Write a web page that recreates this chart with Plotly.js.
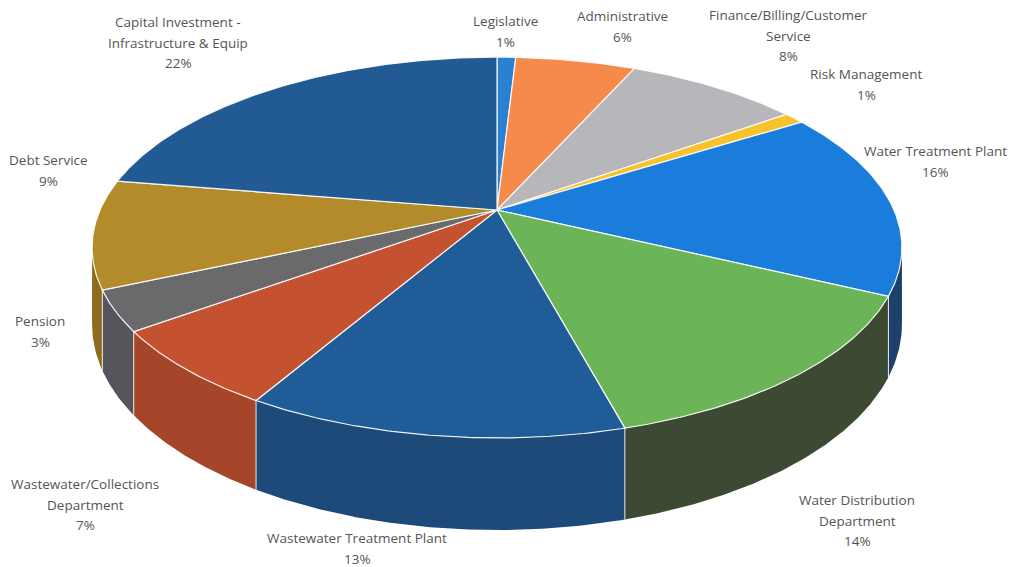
<!DOCTYPE html>
<html>
<head>
<meta charset="utf-8">
<script src="https://cdn.plot.ly/plotly-3.0.1.min.js"></script>
<style>html,body{margin:0;padding:0;background:#fff;}#chart{width:1011px;height:567px;}</style>
</head>
<body>
<div id="chart"></div>
<script>
// ---- data ----
const categories = [
  "Legislative",
  "Administrative",
  "Finance/Billing/Customer Service",
  "Risk Management",
  "Water Treatment Plant",
  "Water Distribution Department",
  "Wastewater Treatment Plant",
  "Wastewater/Collections Department",
  "Pension",
  "Debt Service",
  "Capital Investment - Infrastructure & Equip"
];
const values = [0.9, 5.8, 8.4, 1.0, 16.0, 13.7, 12.6, 6.6, 3.4, 9.2, 22.4];

// ---- styles ----
const topColors  = ["#2c80d2","#f58a4b","#b6b6bb","#f7c22c","#1a7ddb","#6bb457","#1f5c98","#c45230","#6a6a6d","#b48b2a","#225b94"];
const sideColors = ["#1d4f85","#b8602e","#7c7c80","#b48a1c","#1d416a","#3c4a33","#1d4a78","#a5452a","#55565b","#8c6b1e","#1a4470"];
const labelLines = [
  ["Legislative"],
  ["Administrative"],
  ["Finance/Billing/Customer","Service"],
  ["Risk Management"],
  ["Water Treatment Plant"],
  ["Water Distribution","Department"],
  ["Wastewater Treatment Plant"],
  ["Wastewater/Collections","Department"],
  ["Pension"],
  ["Debt Service"],
  ["Capital Investment -","Infrastructure & Equip"]
];
const labelPos = [[505,21],[622,16],[788,15],[866,74],[935,151],[857,500],[357,538],[85,484],[40,321],[48,160],[178,22]];
const lineGap = 20.5;

// ---- projection of the tilted disc ----
const CX = 497, CY = 210, AX = 397, BY = 183, PERSP = 0.197, DEPTH = 74;
function pt(deg, z) {
  const t = deg * Math.PI / 180;
  const u = Math.sin(t), v = Math.cos(t);
  const w = 1 + PERSP * v;
  return [CX + AX * u / w, CY - BY * v / w + z * DEPTH / w];
}
function arc(a1, a2, z) {
  const n = Math.max(2, Math.ceil((a2 - a1) / 0.5) + 1);
  const xs = [], ys = [];
  for (let i = 0; i < n; i++) {
    const p = pt(a1 + (a2 - a1) * i / (n - 1), z);
    xs.push(p[0]); ys.push(p[1]);
  }
  return [xs, ys];
}

const total = values.reduce((a, b) => a + b, 0);
let cum = 0;
const slices = values.map(v => { const a1 = cum / total * 360; cum += v; return [a1, cum / total * 360]; });

const tL = Math.acos(-PERSP) * 180 / Math.PI;   // right silhouette
const tR = 360 - tL;                            // left silhouette

const traces = [];
// sides (back to front)
const sides = [];
slices.forEach((s, i) => {
  const a1 = Math.max(s[0], tL), a2 = Math.min(s[1], tR);
  if (a2 > a1) sides.push({i, a1, a2, v: Math.cos(((a1 + a2) / 2) * Math.PI / 180)});
});
sides.sort((a, b) => b.v - a.v);
sides.forEach(s => {
  const top = arc(s.a1, s.a2, 0), bot = arc(s.a1, s.a2, 1);
  traces.push({
    type: "scatter", mode: "lines", fill: "toself",
    x: top[0].concat(bot[0].slice().reverse()),
    y: top[1].concat(bot[1].slice().reverse()),
    fillcolor: sideColors[s.i], line: {width: 0, color: sideColors[s.i]},
    hoverinfo: "skip", name: categories[s.i]
  });
});
// side boundaries
slices.forEach(s => {
  const a = s[0];
  if (a > tL && a < tR) {
    const p0 = pt(a, 0), p1 = pt(a, 1);
    traces.push({type: "scatter", mode: "lines", x: [p0[0], p1[0]], y: [p0[1], p1[1]],
      line: {color: "rgba(255,255,255,0.85)", width: 1}, hoverinfo: "skip"});
  }
});
// tops
slices.forEach((s, i) => {
  const a = arc(s[0], s[1], 0);
  traces.push({
    type: "scatter", mode: "lines", fill: "toself",
    x: [CX].concat(a[0], [CX]), y: [CY].concat(a[1], [CY]),
    fillcolor: topColors[i], line: {color: "rgba(255,255,255,0.9)", width: 1.2},
    hoverinfo: "skip", name: categories[i]
  });
});

// labels
const annotations = [];
labelLines.forEach((lines, i) => {
  const all = lines.concat([Math.round(values[i] / total * 100) + "%"]);
  all.forEach((t, k) => {
    annotations.push({
      x: labelPos[i][0], y: labelPos[i][1] + k * lineGap, xref: "x", yref: "y",
      text: t, showarrow: false, xanchor: "center", yanchor: "middle",
      font: {family: "Open Sans, sans-serif", size: 13.5, color: "#555555"}
    });
  });
});

const layout = {
  width: 1011, height: 567,
  margin: {l: 0, r: 0, t: 0, b: 0},
  paper_bgcolor: "#ffffff", plot_bgcolor: "#ffffff",
  showlegend: false,
  xaxis: {range: [0, 1011], visible: false, fixedrange: true},
  yaxis: {range: [567, 0], visible: false, fixedrange: true},
  annotations: annotations
};
Plotly.newPlot("chart", traces, layout, {displayModeBar: false, staticPlot: true});
</script>
</body>
</html>
